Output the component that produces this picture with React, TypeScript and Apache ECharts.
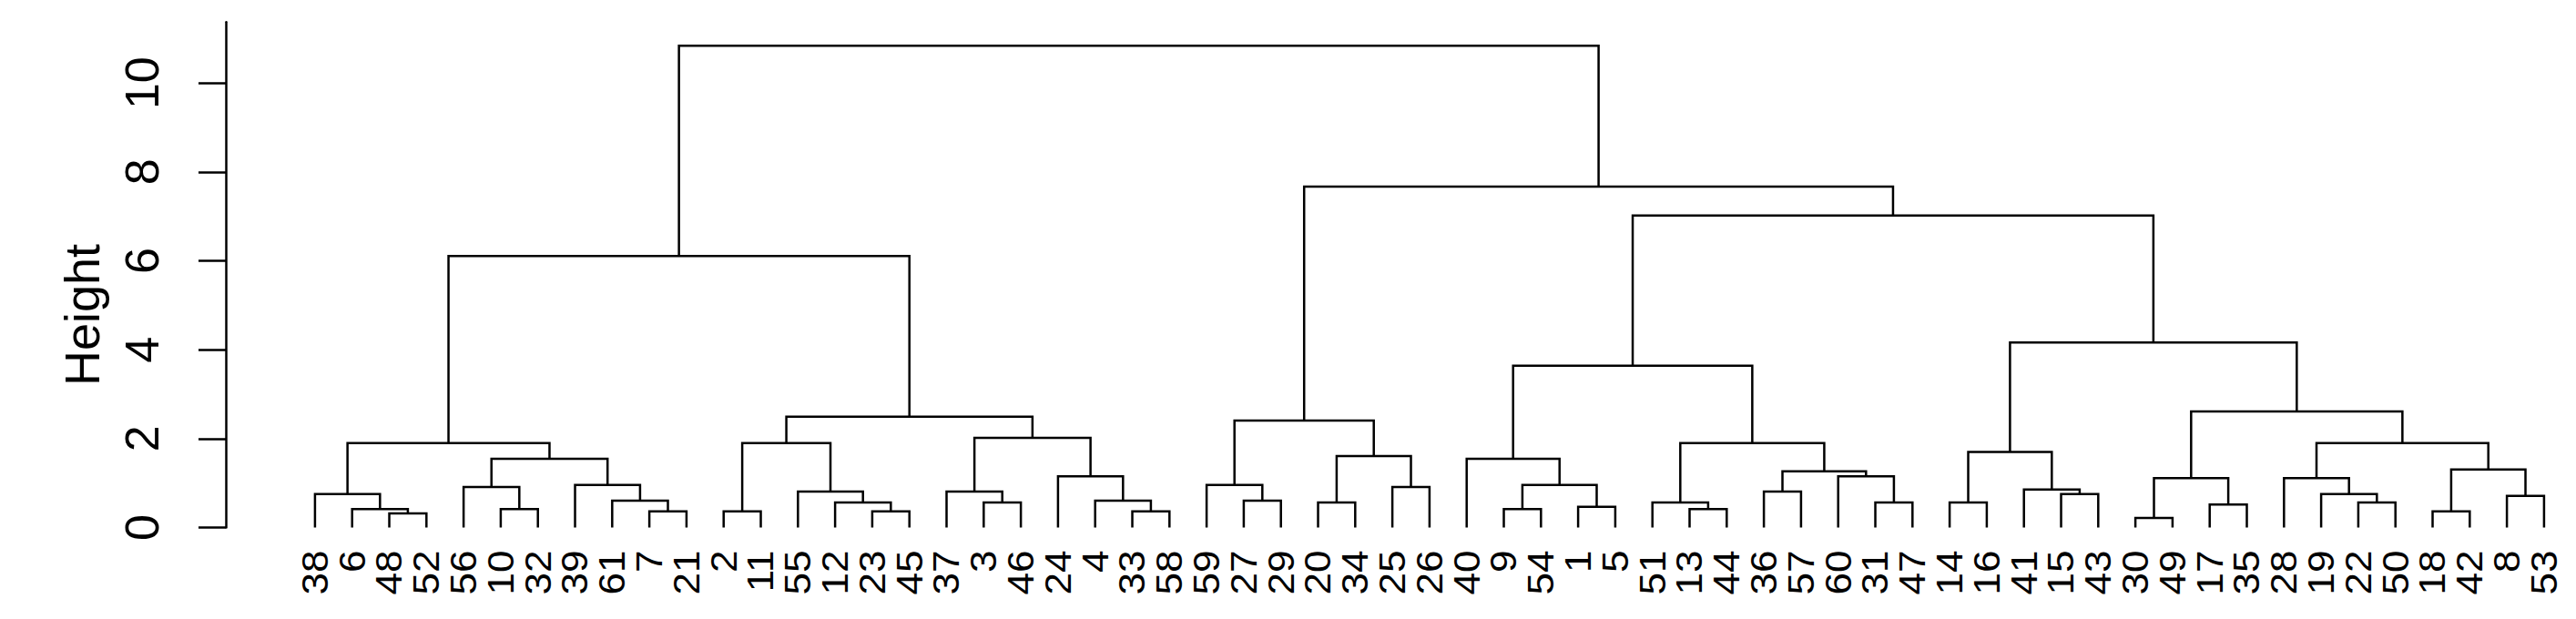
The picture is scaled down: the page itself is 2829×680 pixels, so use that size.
import React, { useEffect, useRef } from "react";
import * as echarts from "echarts";

// Leaf order along the x axis
const leafLabels: string[] = [
  "38", "6", "48", "52", "56", "10", "32", "39", "61", "7", "21", "2", "11", "55", "12", "23", "45",
  "37", "3", "46", "24", "4", "33", "58", "59", "27", "29", "20", "34", "25", "26", "40", "9", "54",
  "1", "5", "51", "13", "44", "36", "57", "60", "31", "47", "14", "16", "41", "15", "43", "30", "49",
  "17", "35", "28", "19", "22", "50", "18", "42", "8", "53",
];

// hclust-style merge table: negative = leaf label, positive = earlier merge step (1-based)
const mergeA: number[] = [
  -48, -6, -38, -10, -56, -7, -61, -39, 5, 3,
  -2, -23, -12, -55, 11, -3, -37, -33, -4, -24,
  17, 15, 10, -27, -59, -20, -25, 26, 25, -9,
  -1, 30, -40, -13, -51, -36, -31, -60, 36, 35,
  33, -14, -15, -41, 42, -30, -17, 46, -22, -19,
  -28, -18, -8, 52, 51, 48, 45, 41, 29, 23,
];
const mergeB: number[] = [
  -52, 1, 2, -32, 4, -21, 6, 7, 8, 9,
  -11, -45, 12, 13, 14, -46, 16, -58, 18, 19,
  20, 21, 22, -29, 24, -34, -26, 27, 28, -54,
  -5, 31, 32, -44, 34, -57, -47, 37, 38, 39,
  40, -16, -43, 43, 44, -49, -35, 47, -50, 49,
  50, -42, -53, 53, 54, 55, 56, 57, 58, 59,
];
const mergeHeight: number[] = [
  0.317, 0.413, 0.753, 0.413, 0.911, 0.365, 0.604, 0.958, 1.546, 1.9,
  0.365, 0.365, 0.563, 0.809, 1.9, 0.563, 0.809, 0.365, 0.604, 1.15,
  2.016, 2.494, 6.11, 0.604, 0.958, 0.563, 0.911, 1.607, 2.405, 0.413,
  0.467, 0.958, 1.546, 0.413, 0.563, 0.809, 0.563, 1.15, 1.266, 1.9,
  3.64, 0.563, 0.753, 0.856, 1.7, 0.215, 0.515, 1.109, 0.563, 0.753,
  1.109, 0.365, 0.713, 1.306, 1.9, 2.61, 4.16, 7.02, 7.67, 10.84,
];

const yTicks: number[] = [0, 2, 4, 6, 8, 10];
const yTitle = "Height";

function buildSegments(): number[][] {
  const leafIndex = new Map<number, number>();
  leafLabels.forEach((l, i) => leafIndex.set(Number(l), i));
  const nodeX: number[] = [];
  const nodeH: number[] = [];
  const segs: number[][] = [];
  const get = (v: number): [number, number] =>
    v < 0 ? [leafIndex.get(-v) as number, 0] : [nodeX[v - 1], nodeH[v - 1]];
  for (let k = 0; k < mergeHeight.length; k++) {
    const [xa, ha] = get(mergeA[k]);
    const [xb, hb] = get(mergeB[k]);
    const h = mergeHeight[k];
    nodeX[k] = (xa + xb) / 2;
    nodeH[k] = h;
    segs.push([xa, ha, xb, hb, h]);
  }
  return segs;
}

const FONT = "'Liberation Sans', Arial, sans-serif";

export default function App() {
  const ref = useRef<HTMLDivElement>(null);
  useEffect(() => {
    if (!ref.current) return;
    const chart = echarts.init(ref.current, undefined, { renderer: "svg" });
    const segs = buildSegments();
    chart.setOption({
      animation: false,
      backgroundColor: "#ffffff",
      grid: { left: 248, right: 0, top: 24.3, bottom: 100.5 },
      xAxis: { type: "value", min: -2.4, max: 60.86, show: false },
      yAxis: {
        type: "value",
        min: 0,
        max: 11.37,
        axisLine: { show: true, onZero: false, lineStyle: { color: "#000", width: 2.5 } },
        axisTick: { show: true, length: 30, customValues: yTicks, lineStyle: { color: "#000", width: 2.5 } },
        axisLabel: {
          customValues: yTicks,
          rotate: 90,
          fontSize: 52,
          fontFamily: FONT,
          color: "#000",
          margin: 66,
        },
        splitLine: { show: false },
      },
      graphic: [
        {
          type: "text",
          x: 90,
          y: 346,
          rotation: Math.PI / 2,
          style: {
            text: yTitle,
            fontSize: 54,
            fontFamily: FONT,
            fill: "#000",
            align: "center",
            verticalAlign: "middle",
          },
        },
      ],
      series: [
        {
          type: "custom",
          clip: false,
          encode: { x: [0, 2], y: [1, 3, 4] },
          data: segs,
          renderItem: (params: any, api: any) => {
            const xa = api.value(0), ha = api.value(1), xb = api.value(2), hb = api.value(3), h = api.value(4);
            return {
              type: "polyline",
              shape: { points: [api.coord([xa, ha]), api.coord([xa, h]), api.coord([xb, h]), api.coord([xb, hb])] },
              style: { stroke: "#000", lineWidth: 2.5, fill: null },
            };
          },
        },
        {
          type: "custom",
          clip: false,
          encode: { x: 0, y: 1 },
          data: leafLabels.map((_, i) => [i, 0]),
          renderItem: (params: any, api: any) => {
            const p = api.coord([api.value(0), 0]);
            return {
              type: "text",
              x: p[0],
              y: p[1] + 25,
              rotation: Math.PI / 2,
              scaleX: 1.1,
              scaleY: 1,
              style: {
                text: leafLabels[params.dataIndex],
                fontSize: 40,
                fontFamily: FONT,
                fill: "#000",
                align: "right",
                verticalAlign: "middle",
              },
            };
          },
        },
      ],
    });
    return () => chart.dispose();
  }, []);
  return <div ref={ref} style={{ position: "fixed", left: 0, top: 0, width: 2829, height: 680 }} />;
}
